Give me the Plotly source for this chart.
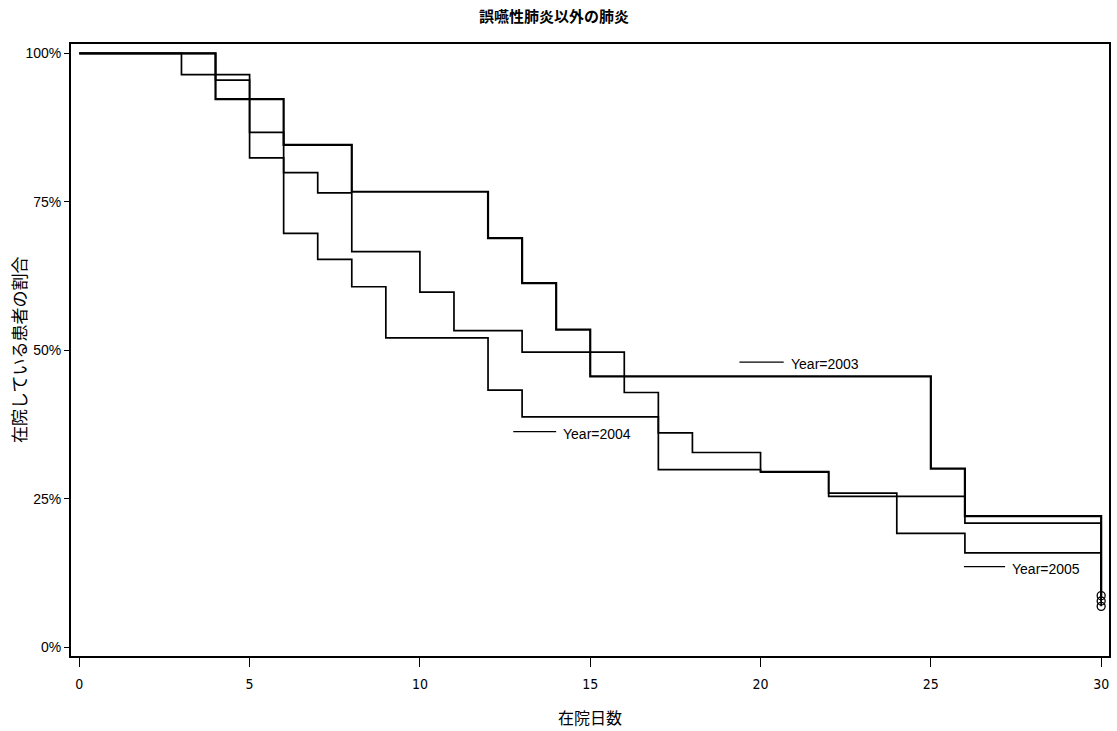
import plotly.graph_objects as go

# ---- data ----
title_text = "誤嚥性肺炎以外の肺炎"
x_title = "在院日数"
y_title = "在院している患者の割合"

x_ticks = [0, 5, 10, 15, 20, 25, 30]
y_ticks = [0, 25, 50, 75, 100]
y_tick_labels = ["0%", "25%", "50%", "75%", "100%"]

series_names = ["Year=2003", "Year=2004", "Year=2005"]

days_2003 = [0, 4, 6, 8, 12, 13, 14, 15, 25, 26, 30]
surv_2003 = [100, 92.3, 84.6, 76.7, 68.9, 61.3, 53.5, 45.6, 30.1, 22.1, 8.7]

days_2004 = [0, 4, 5, 6, 7, 8, 9, 12, 13, 17, 20, 22, 26, 30]
surv_2004 = [100, 95.5, 82.4, 69.7, 65.3, 60.7, 52.1, 43.3, 38.8, 29.9, 29.5, 25.4, 20.9, 7.8]

days_2005 = [0, 3, 5, 6, 7, 8, 10, 11, 13, 16, 17, 18, 20, 22, 24, 26, 30]
surv_2005 = [100, 96.4, 86.7, 79.9, 76.5, 66.6, 59.8, 53.3, 49.7, 42.9, 36.1, 32.8, 29.6, 25.96, 19.2, 15.9, 6.9]

censor_day = [30, 30, 30]
censor_surv = [8.7, 7.8, 6.9]

# ---- label placement (layout, not data) ----
label_pos = {
    "Year=2003": dict(x0=19.38, x1=20.68, y=48.0),
    "Year=2004": dict(x0=12.74, x1=14.00, y=36.3),
    "Year=2005": dict(x0=25.97, x1=27.18, y=13.6),
}

FONT = "Liberation Sans, Arial, sans-serif"
NARROW = "Liberation Sans Narrow, DejaVu Sans Condensed, Liberation Sans, Arial, sans-serif"
CJK = "Noto Sans CJK JP, Noto Sans CJK SC, sans-serif"

fig = go.Figure()
curves = [(days_2003, surv_2003, 2.2), (days_2004, surv_2004, 1.7), (days_2005, surv_2005, 1.7)]
for name, (d, s, w) in zip(series_names, curves):
    fig.add_trace(go.Scatter(x=d, y=s, mode="lines", line=dict(shape="hv", color="black", width=w),
                             name=name, showlegend=False))

fig.add_trace(go.Scatter(x=censor_day, y=censor_surv, mode="markers",
                         marker=dict(symbol="circle-open", size=8, color="black", line=dict(width=1.3)),
                         showlegend=False))

for name in series_names:
    p = label_pos[name]
    fig.add_shape(type="line", x0=p["x0"], x1=p["x1"], y0=p["y"], y1=p["y"],
                  xref="x", yref="y", line=dict(color="black", width=1.3))
    fig.add_annotation(x=p["x1"], y=p["y"], xref="x", yref="y", text=name, showarrow=False,
                       xanchor="left", yanchor="middle", xshift=5, yshift=-2,
                       font=dict(family=FONT, size=14, color="black"))

fig.add_annotation(x=0.465, y=1, xref="paper", yref="paper", text="<b>" + title_text + "</b>", showarrow=False,
                   xanchor="center", yanchor="middle", yshift=29,
                   font=dict(family=CJK, size=15, color="black"))
fig.add_annotation(x=0.5, y=0, xref="paper", yref="paper", text=x_title, showarrow=False,
                   xanchor="center", yanchor="middle", yshift=-61,
                   font=dict(family=CJK, size=16, color="black"))
fig.add_annotation(x=0, y=0.5, xref="paper", yref="paper", text=y_title, showarrow=False,
                   xanchor="center", yanchor="middle", xshift=-53, textangle=-90,
                   font=dict(family=CJK, size=17, color="black"))

fig.update_layout(
    width=1117, height=731,
    margin=dict(l=71, r=6, t=44, b=75),
    paper_bgcolor="white", plot_bgcolor="white",
    showlegend=False,
)
fig.update_xaxes(range=[-0.243, 30.23], tickmode="array", tickvals=x_ticks,
                 ticks="outside", ticklen=9, tickwidth=1.3, tickcolor="black",
                 showline=True, linecolor="black", linewidth=2, mirror=True,
                 showgrid=False, zeroline=False, ticklabelstandoff=5,
                 tickfont=dict(family=NARROW, size=14, color="black"))
fig.update_yaxes(range=[-1.46, 101.57], tickmode="array", tickvals=y_ticks, ticktext=y_tick_labels,
                 ticks="outside", ticklen=5, tickwidth=1.3, tickcolor="black",
                 showline=True, linecolor="black", linewidth=2, mirror=True,
                 showgrid=False, zeroline=False,
                 tickfont=dict(family=FONT, size=14, color="black"))

fig.write_html("out.html")
